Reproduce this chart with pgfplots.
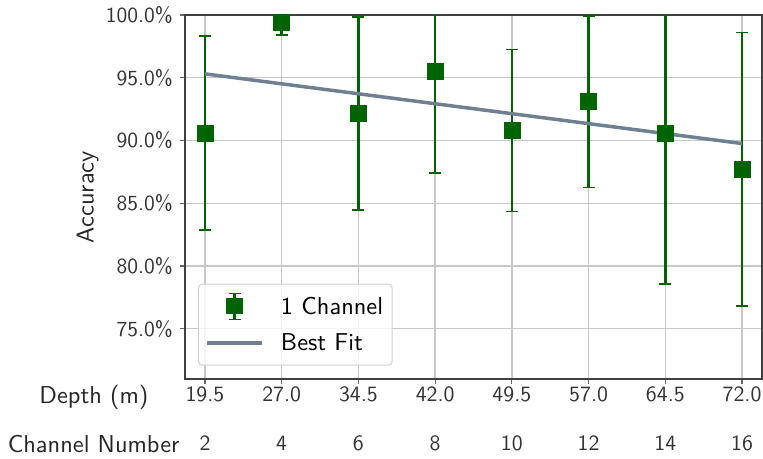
\documentclass[border=0pt]{standalone}
\usepackage{fontspec}
\setsansfont{lmsans10-regular.otf}
\usepackage{pgfplots}
\usepackage{pgfplotstable}
\pgfplotsset{compat=1.18}
\definecolor{dgreen}{RGB}{0,100,0}
\definecolor{slate}{RGB}{112,128,144}
\pgfplotstableread{
x y e
19.5 90.6 7.75
27.0 99.4 1.0
34.5 92.15 7.7
42.0 95.55 8.15
49.5 90.8 6.45
57.0 93.1 6.85
64.5 90.6 12.0
72.0 87.7 10.9
}\accdata
\begin{document}
\begin{tikzpicture}[x=1pt,y=1pt]
\useasboundingbox (0,0) rectangle (763,458);
\begin{axis}[
  at={(185pt,79pt)}, anchor=south west,
  scale only axis, width=577pt, height=364pt,
  xmin=17.55, xmax=73.95, ymin=71, ymax=100,
  xtick={19.5,27,34.5,42,49.5,57,64.5,72},
  xticklabels={{19.5\\2},{27.0\\4},{34.5\\6},{42.0\\8},{49.5\\10},{57.0\\12},{64.5\\14},{72.0\\16}},
  xticklabel style={align=center, font=\fontsize{21.8}{49}\selectfont\sffamily, text=black!80, inner sep=0pt, anchor=north, yshift=-3pt},
  ytick={75,80,85,90,95,100},
  yticklabel={\pgfmathprintnumber[fixed,fixed zerofill,precision=1]{\tick}\%},
  yticklabel style={font=\fontsize{21.5}{26}\selectfont\sffamily, text=black!80, inner sep=0pt, anchor=east, xshift=-7pt},
  /pgf/number format/assume math mode=true,
  grid=major, grid style={black!22, line width=1.3pt},
  tick align=outside, tick pos=left, major tick length=5pt,
  tick style={black!60, line width=1.2pt},
  axis line style={black!75, line width=1.2pt},
  legend style={at={(0.0225,0.0365)}, anchor=south west, font=\fontsize{24.4}{28}\selectfont\sffamily,
    draw=black!18, line width=1pt, rounded corners=4pt, fill=white, fill opacity=0.8, text opacity=1,
    inner xsep=7pt, inner ysep=11pt, row sep=14pt,
    /tikz/every odd column/.append style={column sep=15pt}},
  legend cell align=left,
]
\addplot[dgreen, only marks, mark=none,
  error bars/.cd, y dir=both, y explicit,
  error bar style={line width=2.5pt},
  error mark options={rotate=90, line width=1.8pt, mark size=6pt},
  /pgfplots/.cd,
  legend image code/.code={
    \path[draw=none, fill=none] (0pt,-5pt) rectangle (55pt,5pt);
    \begin{scope}[overlay, sharp corners, draw opacity=1, fill opacity=1]
      \draw[dgreen, line width=2.5pt] (27.5pt,-13pt) -- (27.5pt,13pt);
      \draw[dgreen, line width=1.8pt] (21.5pt,-13pt) -- (33.5pt,-13pt) (21.5pt,13pt) -- (33.5pt,13pt);
      \fill[dgreen] (19.5pt,-7.5pt) rectangle (35.5pt,7.5pt);
    \end{scope}}]
  table[x=x, y=y, y error=e] {\accdata};
\addlegendentry{1 Channel}
\addplot[slate, line width=3.5pt,
  legend image code/.code={
    \path[draw=none, fill=none] (0pt,-5pt) rectangle (55pt,5pt);
    \draw[slate, line width=3.5pt, draw opacity=1] (0pt,0pt) -- (55pt,0pt);}]
  coordinates {(19.5,95.31) (72,89.76)};
\addlegendentry{Best Fit}
\addplot[dgreen, only marks, mark=square*, mark size=8pt, forget plot]
  table[x=x, y=y] {\accdata};
\end{axis}
\node[rotate=90, anchor=base, font=\fontsize{24.4}{28}\selectfont\sffamily, text=black!85] at (93.5,261) {Accuracy};
\node[anchor=base east, font=\fontsize{24.4}{28}\selectfont\sffamily, text=black!85] at (152,54.7) {Depth (m)};
\node[anchor=base east, font=\fontsize{24.4}{28}\selectfont\sffamily, text=black!85] at (183,5.3) {Channel Number};
\end{tikzpicture}
\end{document}
